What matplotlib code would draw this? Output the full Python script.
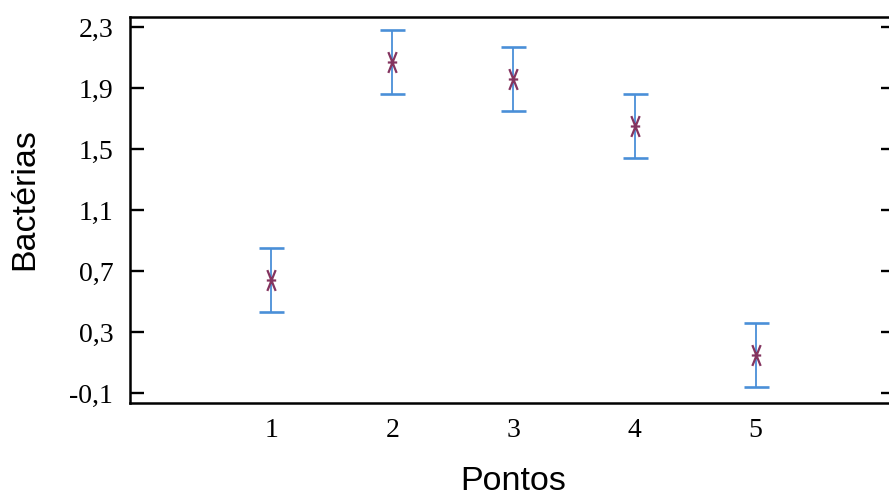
import matplotlib
matplotlib.use("Agg")
import matplotlib.pyplot as plt
from matplotlib.path import Path

# Data
pontos = [1, 2, 3, 4, 5]
medias = [0.64, 2.07, 1.96, 1.65, 0.15]
erros = [0.21, 0.21, 0.21, 0.21, 0.21]
yticks = [-0.1, 0.3, 0.7, 1.1, 1.5, 1.9, 2.3]
ytick_labels = ["-0,1", "0,3", "0,7", "1,1", "1,5", "1,9", "2,3"]
xtick_labels = ["1", "2", "3", "4", "5"]

# tall asterisk-like marker: two steep diagonals plus a horizontal bar
star = Path([(-0.4, -1), (0.4, 1), (-0.4, 1), (0.4, -1), (-0.45, 0), (0.45, 0)],
            [Path.MOVETO, Path.LINETO, Path.MOVETO, Path.LINETO, Path.MOVETO, Path.LINETO])

fig = plt.figure(figsize=(8.89, 4.97), dpi=100)
ax = fig.add_axes([130/889, (497-403)/497, (895-130)/889, (403-17)/497])

ax.errorbar(pontos, medias, yerr=erros, fmt="none", ecolor="#4a8fd8",
            elinewidth=1.3, capsize=9, capthick=1.9, zorder=2)
ax.plot(pontos, medias, linestyle="none", marker=star, markersize=15,
        markeredgewidth=1.6, color="#84345f", markerfacecolor="none", zorder=3)

ax.set_xlim(-0.165, 6.15)
ax.set_ylim(-0.165, 2.365)
ax.set_yticks(yticks)
ax.set_yticklabels(ytick_labels, family="Liberation Serif")
ax.set_xticks(pontos)
ax.set_xticklabels(xtick_labels, family="Liberation Serif")

ax.tick_params(axis="y", direction="in", length=10, width=1.7, pad=12,
               right=True, left=True, labelsize=20)
ax.tick_params(axis="x", length=0, pad=11, labelsize=20)

for s in ax.spines.values():
    s.set_linewidth(1.8)

ax.set_ylabel("Bactérias", family="Liberation Sans", fontsize=24.5, va="center")
ax.yaxis.set_label_coords(-0.137, 0.528)
ax.set_xlabel("Pontos", family="Liberation Sans", fontsize=24.5, va="center")
ax.xaxis.set_label_coords(0.501, -0.203)

fig.savefig("out.png", dpi=100)
